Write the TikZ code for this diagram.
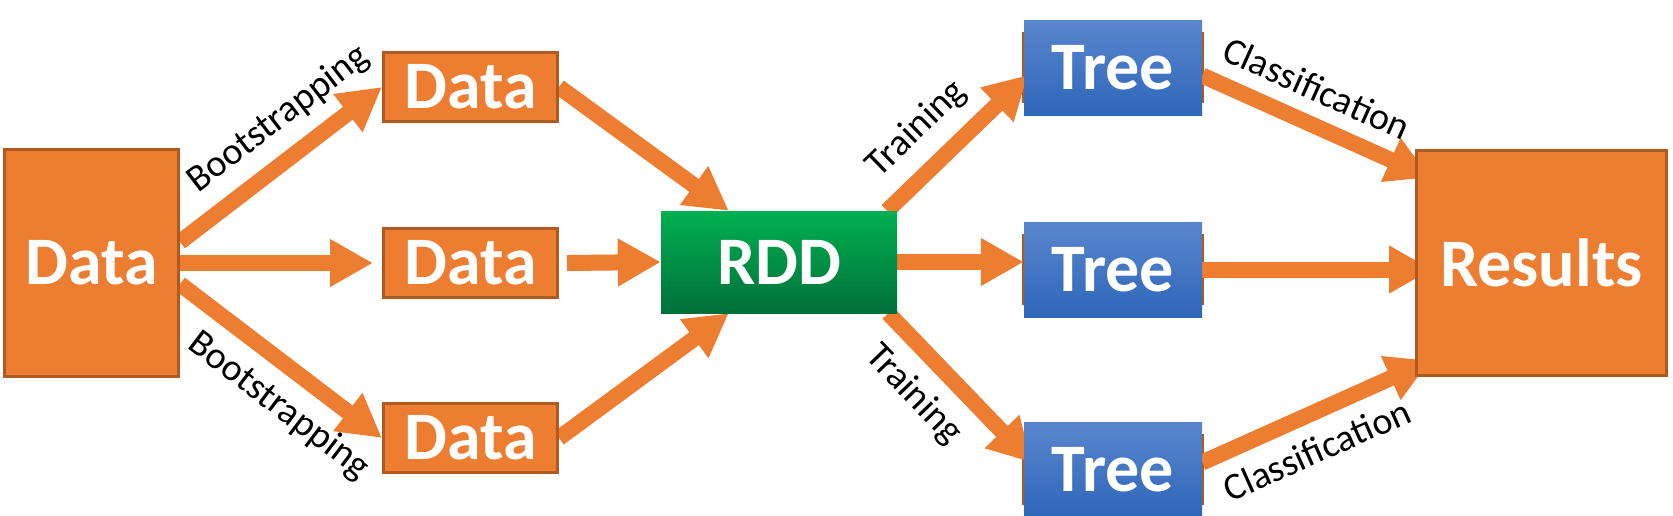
\documentclass[tikz,border=0pt]{standalone}
\usepackage{fontspec}
\setmainfont{Carlito}
\usetikzlibrary{arrows.meta,calc}
\pgfdeclarelayer{bg}
\pgfsetlayers{bg,main}
\definecolor{orfill}{HTML}{ED7D31}
\definecolor{orline}{HTML}{AE5A21}
\definecolor{gtop}{HTML}{00B050}
\definecolor{gbot}{HTML}{00703A}
\definecolor{btop}{HTML}{5A86CD}
\definecolor{bbot}{HTML}{2E66B9}
\begin{document}
\begin{tikzpicture}[x=1pt,y=-1pt,
  boxtxt/.style={font=\bfseries\fontsize{68}{68}\selectfont, text=white, inner sep=0pt},
  orbox/.style={boxtxt, fill=orfill, draw=orline, line width=3pt},
  databox/.style={orbox, minimum width=174pt, minimum height=69pt},
  treebox/.style={boxtxt, top color=btop, bottom color=bbot, minimum width=178pt, minimum height=95pt},
  flow/.style={draw=orfill, line width=16pt, -{Triangle[length=43pt,width=45pt]}},
  lbl/.style={font=\fontsize{38}{38}\selectfont, text=black, inner sep=0pt, sloped}
]
\useasboundingbox (0,0) rectangle (1673,515);

% nodes
\node[orbox, minimum width=174pt, minimum height=227pt] (big) at (91.5,263) {Data};
\node[databox] (d1) at (470.5,87) {Data};
\node[databox] (d2) at (470.5,263) {Data};
\node[databox] (d3) at (470.5,438) {Data};
\node[boxtxt, top color=gtop, bottom color=gbot, minimum width=236pt, minimum height=102pt] (rdd) at (779,262) {RDD};
\node[treebox] (t1) at (1113,67.5) {Tree};
\node[treebox] (t2) at (1113,269.5) {Tree};
\node[treebox] (t3) at (1113,469.5) {Tree};
\node[orbox, minimum width=250pt, minimum height=225pt] (res) at (1541.5,263) {Results};

\begin{pgfonlayer}{bg}
  % strips behind trees
  \foreach \t in {t1,t2,t3}{
    \fill[orline] ($(\t.south west)+(-2,-12)$) rectangle ($(\t.north east)+(2,12)$);
  }
  % bootstrapping
  \draw[flow] ($(big.east)+(0,-21)$) -- node[lbl, above=13pt, pos=0.6] {Bootstrapping} (d1.west);
  \draw[flow] (big.east) -- ($(d2.west)+(-9,0)$);
  \draw[flow] ($(big.east)+(0,21)$) -- node[lbl, below=13pt, pos=0.6] {Bootstrapping} (d3.west);
  % into RDD
  \draw[flow] (d1.east) -- ($(rdd.north west)+(68,0)$);
  \draw[flow] ($(d2.east)+(8,0)$) -- (rdd.west);
  \draw[flow] (d3.east) -- ($(rdd.south west)+(68,0)$);
  % training
  \draw[flow] ($(rdd.north east)+(-10,0)$) -- node[lbl, above=14pt, pos=0.4] {Training} ($(t1.west)+(4,7.5)$);
  \draw[flow] (rdd.east) -- (rdd.east -| t2.west);
  \draw[flow] ($(rdd.south east)+(-9,0)$) -- node[lbl, below=14pt, pos=0.37] {Training} ($(t3.west)+(8,-7)$);
  % classification
  \draw[flow] ($(t1.east)+(0,8)$) -- node[lbl, above=14pt, pos=0.44] {Classification} ($(res.north west)+(15,28.5)$);
  \draw[flow] (t2.east) -- ($(t2.east -| res.west)+(17,0)$);
  \draw[flow] ($(t3.east)+(0,-7)$) -- node[lbl, below=14pt, pos=0.44] {Classification} ($(res.south west)+(15,-16.5)$);
\end{pgfonlayer}
\end{tikzpicture}
\end{document}
